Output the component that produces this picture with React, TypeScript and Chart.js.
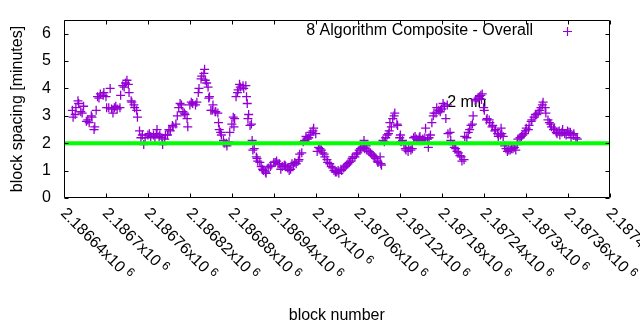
import React, { useEffect, useRef } from "react";
import { Chart, registerables } from "chart.js";

Chart.register(...registerables);

// ---- data ----
const X_MIN = 2186640;
const X_MAX = 2187420;
const Y_MIN = 0;
const Y_MAX = 6.5;

const xTickValues = [2186640, 2186700, 2186760, 2186820, 2186880, 2186940, 2187000, 2187060, 2187120, 2187180, 2187240, 2187300, 2187360, 2187420];
const xTickMantissas = ["2.18664", "2.1867", "2.18676", "2.18682", "2.18688", "2.18694", "2.187", "2.18706", "2.18712", "2.18718", "2.18724", "2.1873", "2.18736", "2.18742"];
const xTickExponent = "6";
const yTickValues = [0, 1, 2, 3, 4, 5, 6];

const xTitle = "block number";
const yTitle = "block spacing [minutes]";
const seriesLabel = "8 Algorithm Composite - Overall";
const targetMinutes = 2;
const targetLabel = "2 min";
const targetLabelBlock = 2187188;
const targetLabelMinutes = 3.5;

const blocks = [
  2186652, 2186653, 2186656, 2186657, 2186660, 2186661, 2186664, 2186666, 2186668, 2186672,
  2186674, 2186676, 2186679, 2186680, 2186683, 2186684, 2186686, 2186688, 2186690, 2186692,
  2186696, 2186697, 2186700, 2186701, 2186704, 2186706, 2186708, 2186710, 2186712, 2186714,
  2186716, 2186720, 2186721, 2186724, 2186726, 2186728, 2186730, 2186732, 2186733, 2186736,
  2186737, 2186740, 2186741, 2186744, 2186745, 2186748, 2186750, 2186752, 2186754, 2186756,
  2186760, 2186762, 2186764, 2186768, 2186770, 2186772, 2186773, 2186776, 2186777, 2186780,
  2186781, 2186784, 2186785, 2186788, 2186790, 2186792, 2186795, 2186796, 2186800, 2186802,
  2186804, 2186806, 2186808, 2186810, 2186812, 2186813, 2186816, 2186817, 2186820, 2186822,
  2186824, 2186828, 2186830, 2186832, 2186833, 2186836, 2186837, 2186840, 2186841, 2186842,
  2186844, 2186846, 2186847, 2186848, 2186850, 2186852, 2186853, 2186856, 2186857, 2186860,
  2186861, 2186862, 2186864, 2186865, 2186868, 2186869, 2186872, 2186873, 2186876, 2186877,
  2186880, 2186882, 2186883, 2186884, 2186886, 2186888, 2186889, 2186891, 2186892, 2186896,
  2186897, 2186900, 2186901, 2186902, 2186903, 2186904, 2186906, 2186908, 2186909, 2186910,
  2186912, 2186915, 2186916, 2186917, 2186920, 2186922, 2186924, 2186925, 2186928, 2186929,
  2186932, 2186935, 2186936, 2186940, 2186942, 2186944, 2186946, 2186948, 2186950, 2186952,
  2186955, 2186956, 2186957, 2186960, 2186962, 2186964, 2186966, 2186968, 2186970, 2186972,
  2186975, 2186976, 2186977, 2186980, 2186982, 2186984, 2186986, 2186988, 2186990, 2186992,
  2186993, 2186996, 2186997, 2187000, 2187002, 2187004, 2187006, 2187008, 2187010, 2187012,
  2187013, 2187016, 2187017, 2187020, 2187022, 2187024, 2187026, 2187028, 2187030, 2187032,
  2187033, 2187036, 2187037, 2187040, 2187042, 2187044, 2187046, 2187048, 2187050, 2187052,
  2187053, 2187056, 2187058, 2187060, 2187062, 2187064, 2187066, 2187068, 2187069, 2187070,
  2187072, 2187073, 2187076, 2187078, 2187080, 2187082, 2187084, 2187086, 2187088, 2187089,
  2187092, 2187093, 2187094, 2187096, 2187098, 2187100, 2187102, 2187104, 2187105, 2187106,
  2187108, 2187110, 2187112, 2187113, 2187116, 2187117, 2187120, 2187121, 2187122, 2187124,
  2187126, 2187128, 2187129, 2187132, 2187133, 2187136, 2187138, 2187140, 2187142, 2187144,
  2187146, 2187148, 2187149, 2187152, 2187153, 2187156, 2187157, 2187160, 2187161, 2187162,
  2187164, 2187166, 2187168, 2187169, 2187172, 2187173, 2187176, 2187178, 2187180, 2187182,
  2187184, 2187186, 2187188, 2187189, 2187192, 2187193, 2187196, 2187198, 2187200, 2187202,
  2187204, 2187206, 2187208, 2187209, 2187212, 2187213, 2187216, 2187218, 2187220, 2187222,
  2187224, 2187225, 2187228, 2187229, 2187232, 2187234, 2187236, 2187237, 2187238, 2187240,
  2187241, 2187244, 2187245, 2187248, 2187249, 2187252, 2187253, 2187256, 2187257, 2187260,
  2187261, 2187264, 2187265, 2187266, 2187268, 2187270, 2187272, 2187274, 2187276, 2187278,
  2187280, 2187282, 2187284, 2187286, 2187288, 2187289, 2187292, 2187294, 2187296, 2187298,
  2187300, 2187301, 2187304, 2187305, 2187308, 2187309, 2187312, 2187314, 2187316, 2187318,
  2187320, 2187322, 2187324, 2187325, 2187328, 2187329, 2187332, 2187334, 2187336, 2187337,
  2187340, 2187341, 2187344, 2187345, 2187348, 2187349, 2187352, 2187353, 2187356, 2187358,
  2187360, 2187362, 2187364, 2187365, 2187368, 2187369, 2187372, 2187374,
];

const minutes = [
  3.2, 2.95, 3.05, 3.3, 3.55, 3.45, 3.15, 3.1, 3.35, 2.8,
  2.85, 2.75, 3.0, 2.95, 2.5, 2.6, 3.2, 3.7, 3.65, 3.8,
  3.75, 3.85, 3.7, 3.3, 3.3, 4.0, 3.25, 3.1, 3.3, 3.35,
  3.25, 3.3, 3.75, 4.1, 4.05, 4.2, 4.3, 4.15, 3.85, 3.55,
  3.5, 3.4, 3.3, 3.2, 2.95, 2.45, 2.2, 2.3, 1.95, 2.2,
  2.3, 2.35, 2.25, 2.3, 2.2, 2.35, 2.5, 2.25, 2.3, 2.2,
  1.95, 2.15, 2.3, 2.3, 2.5, 2.45, 2.65, 2.6, 2.7, 3.0,
  3.3, 3.45, 3.4, 3.15, 3.1, 3.05, 2.9, 2.6, 3.4, 3.5,
  3.45, 3.4, 3.5, 3.85, 4.0, 4.35, 4.45, 4.55, 4.7, 4.3,
  4.2, 4.05, 3.65, 3.7, 3.2, 3.2, 3.4, 3.15, 3.15, 3.1,
  2.75, 2.5, 2.4, 2.3, 2.1, 2.0, 2.0, 1.9, 2.05, 2.4,
  2.7, 2.95, 2.6, 2.9, 3.7, 3.85, 3.95, 4.15, 4.05, 4.1,
  4.0, 4.1, 3.7, 3.45, 2.9, 3.05, 2.65, 2.7, 2.1, 1.75,
  1.8, 1.5, 1.45, 1.35, 1.3, 1.15, 1.05, 1.0, 0.95, 0.9,
  1.1, 1.15, 1.2, 1.3, 1.3, 1.35, 1.25, 1.25, 1.05, 1.15,
  1.2, 1.2, 1.15, 1.1, 1.0, 1.05, 1.25, 1.2, 1.3, 1.25,
  1.35, 1.4, 1.6, 1.65, 2.05, 2.1, 2.25, 2.15, 2.2, 2.3,
  2.4, 2.45, 2.55, 2.35, 1.7, 1.85, 1.8, 1.75, 1.65, 1.6,
  1.5, 1.4, 1.3, 1.25, 1.15, 1.1, 1.0, 0.95, 0.95, 1.0,
  0.9, 1.05, 1.0, 1.1, 1.15, 1.2, 1.25, 1.3, 1.35, 1.45,
  1.5, 1.5, 1.6, 1.65, 1.75, 1.8, 1.85, 1.85, 2.1, 1.8,
  1.9, 1.75, 1.7, 1.65, 1.6, 1.55, 1.5, 1.45, 1.35, 1.3,
  1.5, 1.25, 1.2, 2.1, 2.05, 2.2, 2.3, 2.35, 2.45, 2.75,
  2.6, 2.9, 3.0, 3.1, 2.7, 2.65, 2.2, 2.3, 2.05, 2.1,
  1.95, 1.8, 1.75, 1.7, 1.85, 1.75, 1.8, 2.2, 2.25, 2.15,
  2.1, 2.2, 2.25, 2.1, 2.15, 2.2, 2.55, 2.15, 1.85, 2.2,
  2.3, 2.75, 3.0, 3.1, 3.1, 3.3, 3.2, 3.15, 3.25, 3.45,
  3.35, 2.9, 3.4, 2.35, 2.4, 2.1, 1.95, 1.85, 1.8, 1.7,
  1.65, 1.55, 1.5, 1.35, 1.4, 2.25, 2.2, 2.4, 2.5, 2.65,
  2.7, 3.0, 3.55, 3.6, 3.65, 3.7, 3.75, 3.6, 3.8, 3.3,
  3.2, 2.85, 2.9, 2.85, 2.75, 2.6, 2.65, 2.45, 2.5, 2.35,
  2.25, 2.3, 2.55, 2.35, 2.25, 1.9, 1.8, 1.7, 1.75, 1.75,
  1.8, 1.8, 1.85, 1.75, 1.95, 2.15, 2.2, 2.25, 2.3, 2.35,
  2.45, 2.55, 2.5, 2.65, 2.8, 2.85, 2.95, 3.05, 3.05, 3.1,
  3.2, 3.3, 3.4, 3.5, 3.3, 3.1, 2.85, 2.75, 2.7, 2.6,
  2.5, 2.55, 2.4, 2.35, 2.45, 2.3, 2.4, 2.5, 2.35, 2.3,
  2.45, 2.4, 2.4, 2.2, 2.3, 2.35, 2.2, 2.15,
];

// ---- styles ----
const PURPLE = "#9400d3";
const GREEN = "#00ff00";
const FONT_FAMILY = '"Liberation Sans", Arial, sans-serif';
const FONT = `16px ${FONT_FAMILY}`;
const SUP_FONT = `12px ${FONT_FAMILY}`;
const TICK_LEN = 4;

const gnuplotLook = {
  id: "gnuplotLook",
  beforeDatasetsDraw(chart: any) {
    const ctx = chart.ctx;
    const xs = chart.scales.x;
    const ys = chart.scales.y;
    ctx.save();
    ctx.font = FONT;
    ctx.fillStyle = "#000";
    ctx.textAlign = "left";
    ctx.textBaseline = "middle";
    ctx.fillText(targetLabel, xs.getPixelForValue(targetLabelBlock), ys.getPixelForValue(targetLabelMinutes));
    ctx.restore();
  },
  afterDraw(chart: any) {
    const ctx = chart.ctx;
    const a = chart.chartArea;
    const xs = chart.scales.x;
    const ys = chart.scales.y;
    const L = Math.round(a.left) + 0.5;
    const R = Math.round(a.right) - 0.5;
    const T = Math.round(a.top) + 0.5;
    const B = Math.round(a.bottom) - 0.5;
    ctx.save();
    ctx.strokeStyle = "#000";
    ctx.lineWidth = 1;
    ctx.beginPath();
    ctx.rect(L, T, R - L, B - T);
    xTickValues.forEach((v) => {
      const px = Math.round(xs.getPixelForValue(v)) + 0.5;
      ctx.moveTo(px, B);
      ctx.lineTo(px, B - TICK_LEN);
      ctx.moveTo(px, T);
      ctx.lineTo(px, T + TICK_LEN);
    });
    yTickValues.forEach((v) => {
      const py = Math.round(ys.getPixelForValue(v)) + 0.5;
      ctx.moveTo(L, py);
      ctx.lineTo(L + TICK_LEN, py);
      ctx.moveTo(R, py);
      ctx.lineTo(R - TICK_LEN, py);
    });
    ctx.stroke();

    ctx.fillStyle = "#000";
    ctx.font = FONT;
    ctx.textAlign = "right";
    ctx.textBaseline = "middle";
    yTickValues.forEach((v) => {
      ctx.fillText(String(v), a.left - 13, ys.getPixelForValue(v));
    });
    xTickValues.forEach((v, i) => {
      const px = xs.getPixelForValue(v);
      ctx.save();
      ctx.translate(px - 1, a.bottom + 13);
      ctx.rotate(Math.PI / 4);
      ctx.font = FONT;
      ctx.textAlign = "left";
      ctx.textBaseline = "middle";
      const main = xTickMantissas[i] + "x10";
      ctx.fillText(main, 0, 0);
      const w = ctx.measureText(main).width;
      ctx.font = SUP_FONT;
      ctx.fillText(xTickExponent, w + 4, -4);
      ctx.restore();
    });
    ctx.font = FONT;
    ctx.textAlign = "center";
    ctx.textBaseline = "middle";
    ctx.fillText(xTitle, (a.left + a.right) / 2, 316);
    ctx.save();
    ctx.translate(18, (a.top + a.bottom) / 2);
    ctx.rotate(-Math.PI / 2);
    ctx.fillText(yTitle, 0, 0);
    ctx.restore();
    ctx.textAlign = "right";
    ctx.fillText(seriesLabel, 533, 31);
    ctx.strokeStyle = PURPLE;
    ctx.lineWidth = 1.2;
    ctx.beginPath();
    ctx.moveTo(563, 31.5);
    ctx.lineTo(572, 31.5);
    ctx.moveTo(567.5, 27);
    ctx.lineTo(567.5, 36);
    ctx.stroke();
    ctx.restore();
  },
};

export default function App() {
  const canvasRef = useRef<HTMLCanvasElement | null>(null);

  useEffect(() => {
    const canvas = canvasRef.current;
    if (!canvas) return;
    const points = blocks.map((b, i) => ({ x: b, y: minutes[i] }));
    const chart = new Chart(canvas, {
      type: "scatter",
      data: {
        datasets: [
          {
            type: "line",
            label: targetLabel,
            data: [
              { x: X_MIN, y: targetMinutes },
              { x: X_MAX, y: targetMinutes },
            ],
            borderColor: GREEN,
            backgroundColor: GREEN,
            borderWidth: 4,
            pointRadius: 0,
            fill: false,
          } as any,
          {
            label: seriesLabel,
            data: points,
            pointStyle: "cross",
            pointRadius: 4.5,
            pointBorderWidth: 1.3,
            borderColor: PURPLE,
            backgroundColor: PURPLE,
            pointHoverRadius: 4.5,
          },
        ],
      },
      options: {
        animation: false,
        responsive: false,
        devicePixelRatio: 1,
        events: [],
        layout: { padding: { top: 20, right: 30.5, left: 0, bottom: 0 } },
        plugins: {
          legend: { display: false },
          tooltip: { enabled: false },
          title: { display: false },
        },
        scales: {
          x: {
            type: "linear",
            min: X_MIN,
            max: X_MAX,
            grid: { display: false },
            border: { display: false },
            ticks: { display: false },
            afterFit: (s: any) => {
              s.height = 132;
            },
          },
          y: {
            type: "linear",
            min: Y_MIN,
            max: Y_MAX,
            grid: { display: false },
            border: { display: false },
            ticks: { display: false },
            afterFit: (s: any) => {
              s.width = 64;
            },
          },
        },
      },
      plugins: [gnuplotLook],
    });
    return () => chart.destroy();
  }, []);

  return (
    <div style={{ position: "absolute", left: 0, top: 0, width: 640, height: 330, background: "#fff" }}>
      <canvas ref={canvasRef} width={640} height={330} />
    </div>
  );
}
